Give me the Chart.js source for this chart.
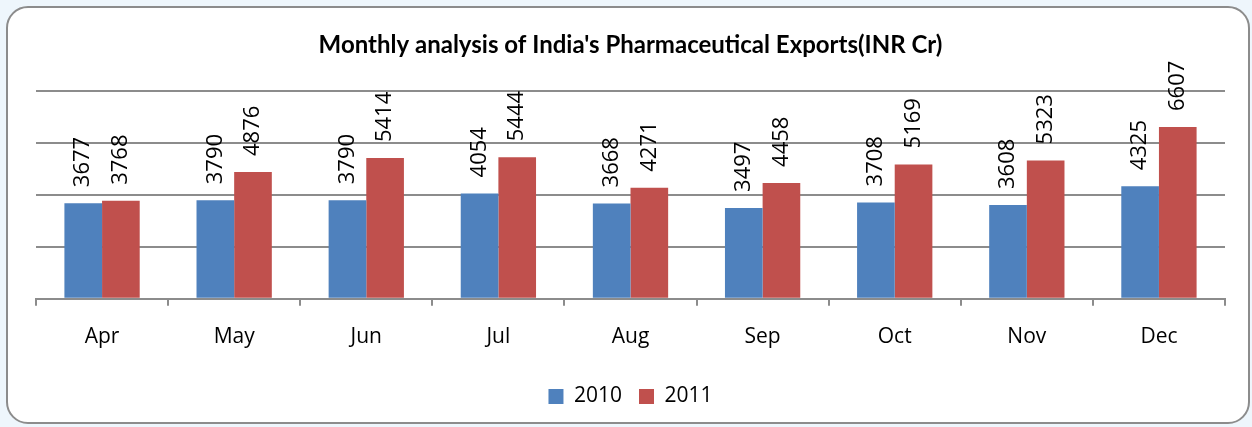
<!DOCTYPE html>
<html>
<head>
<meta charset="utf-8">
<script src="https://cdn.jsdelivr.net/npm/chart.js@4.4.0/dist/chart.umd.min.js"></script>
<style>
    html, body { margin: 0; padding: 0; background: #eef6fc; }
    #wrap { position: relative; width: 1252px; height: 427px; }
    #card {
        position: absolute; left: 6px; top: 6px; width: 1240px; height: 414px;
        background: #fff; border: 2px solid #8c8c8c; border-radius: 22px;
    }
    #chart { position: absolute; left: 0; top: 0; }
</style>
</head>
<body>
<div id="wrap">
    <div id="card"></div>
    <canvas id="chart" width="1252" height="427"></canvas>
</div>
<script>
    const months = ['Apr', 'May', 'Jun', 'Jul', 'Aug', 'Sep', 'Oct', 'Nov', 'Dec'];
    const exports2010 = [3677, 3790, 3790, 4054, 3668, 3497, 3708, 3608, 4325];
    const exports2011 = [3768, 4876, 5414, 5444, 4271, 4458, 5169, 5323, 6607];
    const seriesNames = ['2010', '2011'];

    const FONT = "'Open Sans', sans-serif";

    // rotated value labels above each bar, like excel's outside end labels
    const valueLabels = {
        id: 'valueLabels',
        afterDatasetsDraw(chart) {
            const ctx = chart.ctx;
            ctx.save();
            ctx.font = '22px ' + FONT;
            ctx.fillStyle = '#000';
            ctx.textAlign = 'left';
            ctx.textBaseline = 'middle';
            chart.data.datasets.forEach((ds, i) => {
                chart.getDatasetMeta(i).data.forEach((bar, j) => {
                    ctx.save();
                    ctx.translate(bar.x, bar.y - 16);
                    ctx.rotate(-Math.PI / 2);
                    ctx.fillText(String(ds.data[j]), 0, 0);
                    ctx.restore();
                });
            });
            ctx.restore();
        }
    };

    const ctx = document.getElementById('chart').getContext('2d');
    new Chart(ctx, {
        type: 'bar',
        data: {
            labels: months,
            datasets: [
                { label: seriesNames[0], data: exports2010, backgroundColor: '#4f81bd' },
                { label: seriesNames[1], data: exports2011, backgroundColor: '#c0504d' }
            ]
        },
        options: {
            responsive: false,
            animation: false,
            layout: { padding: { left: 36, right: 27, top: 0, bottom: 10 } },
            datasets: { bar: { categoryPercentage: 0.57, barPercentage: 1 } },
            scales: {
                x: {
                    grid: { drawOnChartArea: false, drawTicks: true, tickLength: 7, color: '#8c8c8c', lineWidth: 2 },
                    border: { display: true, color: '#8c8c8c', width: 2 },
                    ticks: { color: '#000', font: { family: FONT, size: 21 }, padding: 19 }
                },
                y: {
                    min: 0, max: 8000,
                    ticks: { display: false, stepSize: 2000 },
                    grid: { color: '#8c8c8c', lineWidth: 2, drawTicks: false },
                    border: { display: false }
                }
            },
            plugins: {
                title: {
                    display: true,
                    text: "Monthly analysis of India's Pharmaceutical Exports(INR Cr)",
                    color: '#000',
                    font: { family: "Lato, sans-serif", size: 24, weight: 'bold' },
                    padding: { top: 31, bottom: 31 }
                },
                legend: {
                    position: 'bottom',
                    labels: {
                        color: '#000',
                        font: { family: FONT, size: 21 },
                        boxWidth: 15, boxHeight: 15, padding: 17
                    }
                },
                tooltip: { enabled: false }
            }
        },
        plugins: [valueLabels]
    });
</script>
</body>
</html>
